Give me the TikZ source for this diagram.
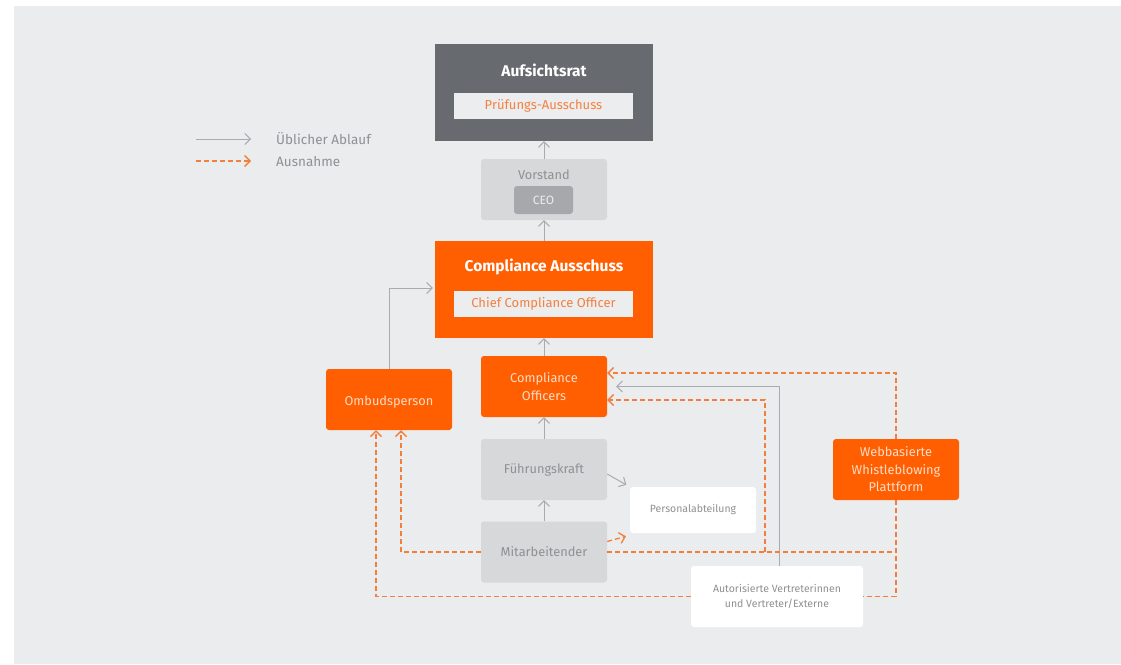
\documentclass[tikz,border=0pt]{standalone}
\usepackage{fontspec}
\setmainfont{Fira Sans}
\usetikzlibrary{arrows.meta,positioning,calc}
\definecolor{cPanel}{HTML}{EBECEE}
\definecolor{cDark}{HTML}{676A6E}
\definecolor{cLight}{HTML}{D7D8DA}
\definecolor{cMid}{HTML}{A6A8AB}
\definecolor{cOrange}{HTML}{FF5F00}
\definecolor{cOrangeText}{HTML}{FDDCC8}
\definecolor{cOrangeLite}{HTML}{F5803F}
\definecolor{cInner}{HTML}{ECEDEF}
\definecolor{cGrayText}{HTML}{8E9093}
\definecolor{cLine}{HTML}{A9ABAE}
\definecolor{cDash}{HTML}{F47E3C}

\begin{document}
\begin{tikzpicture}[x=1pt, y=-1pt,
  box/.style={rectangle, rounded corners=3pt, inner sep=0pt, minimum width=126pt, minimum height=61pt, align=center, font=\fontsize{12.8}{17.5}\selectfont},
  orangebox/.style={box, fill=cOrange, text=cOrangeText},
  graybox/.style={box, fill=cLight, text=cGrayText},
  whitebox/.style={box, fill=white, text=cGrayText, font=\fontsize{10.5}{15}\selectfont},
  bigbox/.style={rectangle, inner sep=0pt, minimum width=218pt, minimum height=97pt},
  innerbox/.style={rectangle, inner sep=0pt, minimum width=179pt, minimum height=26pt, fill=cInner, text=cOrangeLite, font=\fontsize{13}{15}\selectfont},
  title/.style={text=white, inner sep=0pt, font=\bfseries\fontsize{15.5}{18}\selectfont},
  legend/.style={text=cGrayText, inner sep=0pt, anchor=west, font=\fontsize{13.5}{16}\selectfont},
  flow/.style={draw=cLine, line width=1pt, -{Straight Barb[length=5.5pt,width=11pt]}},
  exc/.style={draw=cDash, line width=1.3pt, dash pattern=on 5pt off 3pt, -{Straight Barb[length=5.5pt,width=11pt]}},
  excline/.style={exc, -},
]
\useasboundingbox (0,0) rectangle (1121,664);
\fill[white] (0,0) rectangle (1121,664);
\fill[cPanel] (14,6) rectangle (1121,664);

% legend
\coordinate (legA) at (196,139);
\coordinate (legB) at (251,139);
\coordinate (legC) at (196,161);
\coordinate (legD) at (251,161);
\draw[flow] (legA) -- (legB);
\draw[exc] (legC) -- (legD);
\node (legflow) [legend] at (276,139) {Üblicher Ablauf};
\node (legexc) [legend] at (276,161.5) {Ausnahme};

% boards
\node (auf) [bigbox, fill=cDark] at (544,92.5) {};
\node (aufT) [title] at (544,70) {Aufsichtsrat};
\node (pruef) [innerbox] at (543.5,106) {Prüfungs-Ausschuss};

\node (vorstand) [graybox] at (544,189.5) {};
\node (vorstandT) [text=cGrayText, inner sep=0pt, font=\fontsize{12.8}{15}\selectfont] at (544,175) {Vorstand};
\node (ceo) [rectangle, rounded corners=3pt, fill=cMid, text=cInner, minimum width=59pt, minimum height=28pt, inner sep=0pt, font=\fontsize{12}{14}\selectfont] at (543.5,200) {CEO};

\node (cas) [bigbox, fill=cOrange] at (544,289.5) {};
\node (casT) [title] at (544,267) {Compliance Ausschuss};
\node (cco) [innerbox] at (543.5,304) {Chief Compliance Officer};

% units
\node (coff) [orangebox] at (544,386.5) {Compliance\\Officers};
\node (ombud) [orangebox, text height=14pt] at (389,399.5) {Ombudsperson};
\node (fuehr) [graybox] at (544,469.5) {Führungskraft};
\node (mitarb) [graybox] at (544,552) {Mitarbeitender};
\node (personal) [whitebox, minimum height=46pt] at (693,510) {Personalabteilung};
\node (autor) [whitebox, minimum width=172pt] at (777,596.5) {Autorisierte Vertreterinnen\\und Vertreter/Externe};
\node (web) [orangebox] at (896,469.5) {Webbasierte\\Whistleblowing\\Plattform};

% usual flow
\draw[flow] (vorstand) -- (auf);
\draw[flow] (cas) -- (vorstand);
\draw[flow] (coff) -- (cas);
\draw[flow] (fuehr) -- (coff);
\draw[flow] (mitarb) -- (fuehr);
\draw[flow, shorten >=2pt] (ombud.north) |- ([yshift=1.5pt]cas.west);
\draw[flow, shorten >=4pt] ([yshift=-4.5pt]fuehr.east) -- (personal.north west);
\draw[flow, shorten >=9pt] ([xshift=2pt]autor.north) |- (coff.east);

% exceptions
\coordinate (split) at (765,552);
\draw[exc, shorten >=4pt] ([yshift=10.5pt]mitarb.east) -- ([yshift=-2pt]personal.south west);
\draw[exc] (mitarb.west) -| ([xshift=12pt]ombud.south);
\draw[exc] (autor.west) -| ([xshift=-13pt]ombud.south);
\draw[excline] (mitarb.east) -- (mitarb.east -| web.south);
\draw[exc] (split) |- ([yshift=-13.5pt]coff.east);
\draw[exc] (web.north) |- ([yshift=13.5pt]coff.east);
\draw[excline] (web.south) |- (autor.east);
\end{tikzpicture}
\end{document}
